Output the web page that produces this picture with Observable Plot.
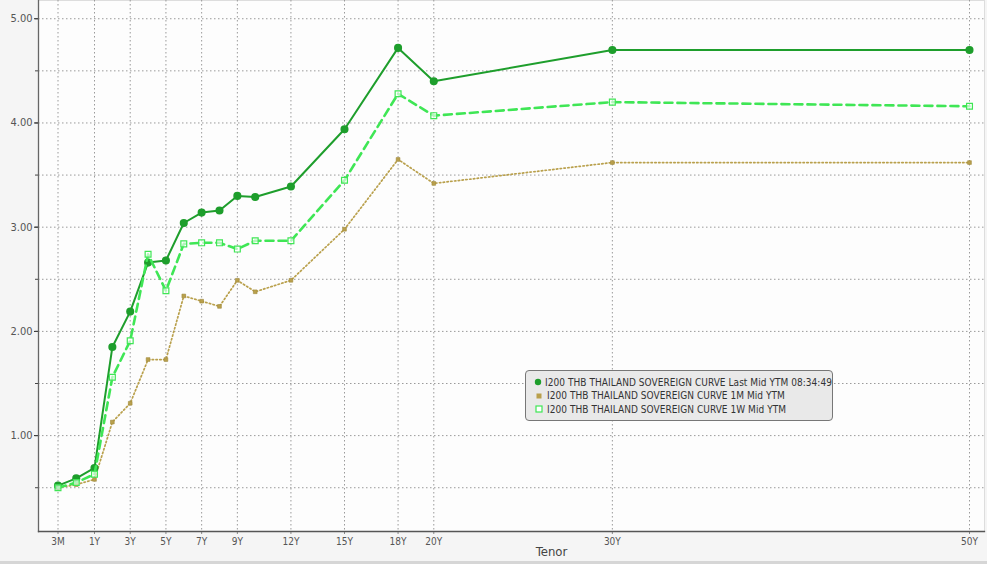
<!DOCTYPE html>
<html>
<head>
<meta charset="utf-8">
<script src="https://cdn.jsdelivr.net/npm/d3@7"></script>
<script src="https://cdn.jsdelivr.net/npm/@observablehq/plot@0.6"></script>
<style>
  html, body { margin: 0; padding: 0; background: #ffffff; }
  #wrap { position: relative; width: 987px; height: 564px; overflow: hidden; background: #f5f5f5; }
  #chart svg { display: block; }
  #bottombar { position: absolute; left: 0; top: 561px; width: 987px; height: 3px; background: #d6d6d6; }
  #legend {
    position: absolute; left: 525px; top: 370px; width: 308px; height: 51px;
    background: #e9e9e9; border: 1px solid #777; border-radius: 4px; box-sizing: border-box;
    font-family: "DejaVu Sans Condensed", "DejaVu Sans", sans-serif; font-size: 10px; color: #333;
    padding-top: 4.5px; padding-left: 8px; letter-spacing: 0.05px;
  }
  #legend .row { height: 13.5px; line-height: 13.5px; white-space: nowrap; display: flex; align-items: center; }
  #legend .sw { width: 10px; display: inline-flex; justify-content: center; margin-right: 3px; }
</style>
</head>
<body>
<div id="wrap">
  <div id="chart"></div>
  <div id="legend"></div>
  <div id="bottombar"></div>
</div>
<script>
const tenors = ["3M","6M","1Y","2Y","3Y","4Y","5Y","6Y","7Y","8Y","9Y","10Y","12Y","15Y","18Y","20Y","30Y","50Y"];
const years  = [0.25,0.5,1,2,3,4,5,6,7,8,9,10,12,15,18,20,30,50];
const lastMid = [0.52,0.59,0.69,1.85,2.19,2.66,2.68,3.04,3.14,3.16,3.30,3.29,3.39,3.94,4.72,4.40,4.70,4.70];
const oneMonth = [0.50,0.53,0.58,1.13,1.31,1.73,1.73,2.34,2.29,2.24,2.49,2.38,2.49,2.98,3.65,3.42,3.62,3.62];
const oneWeek = [0.50,0.55,0.63,1.56,1.91,2.74,2.39,2.84,2.85,2.85,2.79,2.87,2.87,3.45,4.28,4.07,4.20,4.16];
const tickYears = [0.25,1,3,5,7,9,12,15,18,20,30,50];
const tickLabels = ["3M","1Y","3Y","5Y","7Y","9Y","12Y","15Y","18Y","20Y","30Y","50Y"];
const yLabelTicks = [1,2,3,4,5];
const yGridTicks = [0.5,1,1.5,2,2.5,3,3.5,4,4.5,5];
const seriesNames = [
  "I200 THB THAILAND SOVEREIGN CURVE Last Mid YTM 08:34:49",
  "I200 THB THAILAND SOVEREIGN CURVE 1M Mid YTM",
  "I200 THB THAILAND SOVEREIGN CURVE 1W Mid YTM"
];

const cLast = "#1e9e2c", c1M = "#b9a04c", c1W = "#3fe655";
const rows = (vals) => years.map((t, i) => ({t, v: vals[i], tenor: tenors[i]}));
const dLast = rows(lastMid), d1M = rows(oneMonth), d1W = rows(oneWeek);
const labelOf = new Map(tickYears.map((t, i) => [t, tickLabels[i]]));

const W = 987, H = 564, mL = 38, mR = 3, mT = 0, mB = 33;

const chart = Plot.plot({
  width: W, height: H,
  marginLeft: mL, marginRight: mR, marginTop: mT, marginBottom: mB,
  style: { background: "transparent", fontFamily: "'DejaVu Sans Condensed', 'DejaVu Sans', sans-serif" },
  x: { type: "linear", domain: [0.25, 0.5, 1, 50], range: [57.5, 75.75, 94, 969] },
  y: { domain: [0.08, 5.175] },
  marks: [
    Plot.frame({ fill: "#fdfdfd", stroke: "#dddddd" }),
    Plot.gridY(yGridTicks, { stroke: "#9a9a9a", strokeOpacity: 1, strokeDasharray: "1.5,2.5", strokeWidth: 1 }),
    Plot.gridX(tickYears, { stroke: "#9a9a9a", strokeOpacity: 1, strokeDasharray: "1.5,2.5", strokeWidth: 1 }),
    Plot.axisY(yLabelTicks, { tickSize: 4, tickPadding: 2, tickFormat: d3.format(".2f"), fontSize: 11, fill: "#555", stroke: "#222", label: null }),
    Plot.axisY(yGridTicks, { tickSize: 3, tickFormat: () => "", stroke: "#444", label: null }),
    Plot.axisX(tickYears, { tickSize: 3, tickPadding: 3, tickFormat: d => labelOf.get(d), fontSize: 10, fill: "#555", stroke: "#888", label: null }),
    Plot.frame({ anchor: "left", stroke: "#666", strokeWidth: 1.3 }),
    Plot.frame({ anchor: "bottom", stroke: "#555", strokeWidth: 1.3 }),
    Plot.line(d1M, { x: "t", y: "v", stroke: c1M, strokeWidth: 1.7, strokeDasharray: "1.4,2.4" }),
    Plot.dot(d1M, { x: "t", y: "v", symbol: "square", r: 2.1, fill: c1M, stroke: "#a08a3a", strokeWidth: 0.6 }),
    Plot.line(dLast, { x: "t", y: "v", stroke: cLast, strokeWidth: 2 }),
    Plot.dot(dLast, { x: "t", y: "v", r: 3.3, fill: cLast, stroke: cLast }),
    Plot.line(d1W, { x: "t", y: "v", stroke: c1W, strokeWidth: 2.6, strokeDasharray: "8,5" }),
    Plot.dot(d1W, { x: "t", y: "v", symbol: "square", r: 3.3, fill: "white", fillOpacity: 0.6, stroke: c1W, strokeWidth: 1.2 }),
    Plot.text(["Tenor"], { frameAnchor: "bottom", dy: 24, fontSize: 13, fill: "#444", textAnchor: "middle", dx: 40 })
  ]
});
document.getElementById("chart").appendChild(chart);

const swatches = [
  `<svg width="8" height="8"><circle cx="4" cy="4" r="3.2" fill="${cLast}"/></svg>`,
  `<svg width="8" height="8"><rect x="1.5" y="1.5" width="5" height="5" fill="${c1M}"/></svg>`,
  `<svg width="8" height="8"><rect x="1" y="1" width="6" height="6" fill="white" stroke="${c1W}" stroke-width="1.2"/></svg>`
];
const leg = document.getElementById("legend");
seriesNames.forEach((name, i) => {
  const r = document.createElement("div");
  r.className = "row";
  r.innerHTML = `<span class="sw">${swatches[i]}</span><span>${name}</span>`;
  leg.appendChild(r);
});
</script>
</body>
</html>
